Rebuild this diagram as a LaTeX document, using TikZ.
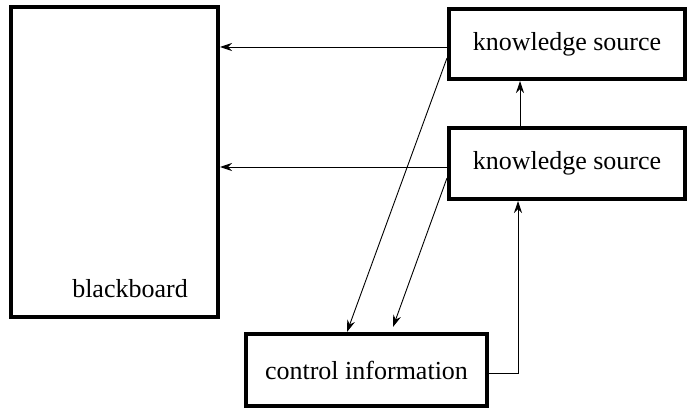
\documentclass[tikz,border=0pt]{standalone}
\usepackage{fontspec}
\setmainfont{Liberation Serif}
\usetikzlibrary{arrows.meta}
\begin{document}
\begin{tikzpicture}[x=1pt,y=-1pt,
  box/.style={draw, line width=4pt, inner sep=0pt, font=\fontsize{26}{30}\selectfont},
  flow/.style={line width=0.9pt, -{Stealth[length=12pt,width=8pt,inset=4pt]}},
  lbl/.style={inner sep=0pt, font=\fontsize{26}{30}\selectfont}]
\useasboundingbox (0,0) rectangle (687,409);
% blackboard
\node[box, minimum width=207pt, minimum height=310pt] (bb) at (114.5,162) {};
\node[lbl, anchor=base] (bbtext) at (130,297) {blackboard};
% knowledge sources
\node[box, minimum width=236pt, minimum height=70pt] (ks1) at (567,44) {knowledge source};
\node[box, minimum width=236pt, minimum height=71pt] (ks2) at (567,163.5) {knowledge source};
% control
\node[box, minimum width=241pt, minimum height=72pt] (ctl) at (366.5,370) {control information};
% writes to the blackboard
\draw[flow] ([yshift=-3pt]ks1.west) -- ([yshift=-3pt]ks1.west -| bb.east);
\draw[flow] ([yshift=-3.5pt]ks2.west) -- ([yshift=-3.5pt]ks2.west -| bb.east);
% reports to control
\draw[flow] ([yshift=-14pt]ks1.west) -- ([xshift=-19.5pt]ctl.north);
\draw[flow] ([yshift=-14.5pt]ks2.west) -- ([xshift=26.5pt,yshift=5pt]ctl.north);
% between sources
\draw[flow] ([xshift=-47pt]ks2.north) -- ([xshift=-47pt]ks1.south);
% control activates sources
\draw[flow] ([yshift=-3pt]ctl.east) -| ([xshift=-49pt]ks2.south);
\end{tikzpicture}
\end{document}
